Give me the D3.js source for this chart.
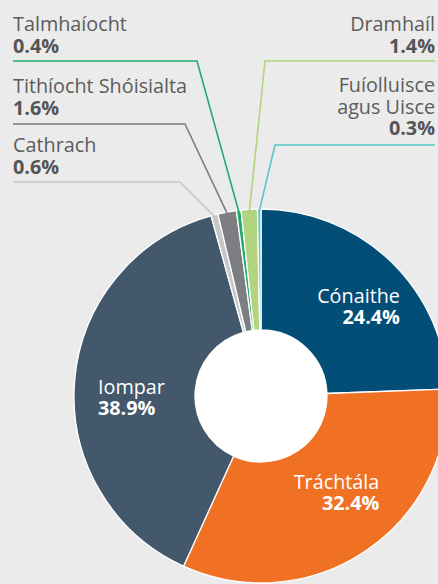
<!DOCTYPE html>
<html>
<head>
<meta charset="utf-8">
<script src="https://cdn.jsdelivr.net/npm/d3@7"></script>
<style>
  html, body { margin: 0; padding: 0; background: #ebebeb; }
  svg { display: block; font-family: "Open Sans", "Noto Sans", sans-serif; }
</style>
</head>
<body>
<svg id="chart" width="438" height="584"></svg>
<script>
// Emissions share by sector (%)
const categories = ["Cónaithe", "Tráchtála", "Iompar", "Cathrach", "Tithíocht Shóisialta", "Talmhaíocht", "Dramhaíl", "Fuíolluisce agus Uisce"];
const shares = [24.4, 32.4, 38.9, 0.6, 1.6, 0.4, 1.4, 0.3];
const colours = ["#034e77", "#f07124", "#43586a", "#c6c7c8", "#7d7e81", "#22ac6c", "#b0d57e", "#5bc5c8"];

const width = 438, height = 584;
const cx = 261, cy = 396;
const outerR = 187, innerR = 66;
const fontSize = 19.8, lineH = 21.5;
const fmt = d => d3.format(".1f")(d) + "%";

// Label text for each sector, split into lines
const nameLines = {
  "Fuíolluisce agus Uisce": ["Fuíolluisce", "agus Uisce"]
};
const linesOf = name => nameLines[name] || [name];

// Big sectors carry their label inside the ring (nudges from the slice centroid)
const insideLabels = {
  "Cónaithe":  { dx: 6, dy: 5 },
  "Tráchtála": { dx: 2, dy: -14 },
  "Iompar":    { dx: 2, dy: 11 }
};

// Small sectors get a callout in one of the two top columns
const callouts = {
  "Talmhaíocht":            { side: "left",  baseline: 31, elbowX: 197, ruleY: 61 },
  "Tithíocht Shóisialta":   { side: "left",  baseline: 93, elbowX: 185, ruleY: 124 },
  "Cathrach":               { side: "left",  baseline: 152, elbowX: 180, ruleY: 182 },
  "Dramhaíl":               { side: "right", baseline: 31, elbowX: 265, ruleY: 61 },
  "Fuíolluisce agus Uisce": { side: "right", baseline: 92, elbowX: 275, ruleY: 145 }
};
const leftX = 13, rightX = 435;

const svg = d3.select("#chart");
svg.append("rect").attr("width", width).attr("height", height).attr("fill", "#ebebeb");

const data = categories.map((c, i) => ({ name: c, value: shares[i], colour: colours[i] }));
const pie = d3.pie().value(d => d.value).sort(null);
const arcs = pie(data);

const arc = d3.arc().innerRadius(innerR).outerRadius(outerR);

const g = svg.append("g").attr("transform", `translate(${cx},${cy})`);

// Callout leader lines (drawn under the ring)
const polar = (a, r) => [Math.sin(a) * r, -Math.cos(a) * r];
const leaders = svg.append("g").attr("fill", "none").attr("stroke-width", 1.6);
arcs.filter(a => callouts[a.data.name]).forEach(a => {
  const c = callouts[a.data.name];
  const mid = (a.startAngle + a.endAngle) / 2;
  const [px, py] = polar(mid, outerR - 2);
  const startX = c.side === "left" ? leftX : rightX;
  leaders.append("path")
    .attr("d", d3.line()([[startX, c.ruleY], [c.elbowX, c.ruleY], [cx + px, cy + py]]))
    .attr("stroke", a.data.colour);
});

// Ring slices
g.selectAll("path.slice")
  .data(arcs)
  .join("path")
  .attr("class", "slice")
  .attr("d", arc)
  .attr("fill", d => d.data.colour)
  .attr("stroke", "#ffffff")
  .attr("stroke-width", 1.3)
  .attr("stroke-linejoin", "round");

// White centre
g.append("circle").attr("r", innerR).attr("fill", "#ffffff");

// Callout texts: one text element per sector, lines as tspans
const calloutText = svg.append("g").attr("font-size", fontSize).attr("fill", "#5c5c5c");
arcs.filter(a => callouts[a.data.name]).forEach(a => {
  const c = callouts[a.data.name];
  const x = c.side === "left" ? leftX : rightX;
  const anchor = c.side === "left" ? "start" : "end";
  const lines = linesOf(a.data.name);
  const t = calloutText.append("text")
    .attr("x", x).attr("y", c.baseline)
    .attr("text-anchor", anchor);
  lines.forEach((ln, i) => {
    t.append("tspan").attr("x", x).attr("dy", i === 0 ? 0 : lineH).text(ln);
  });
  t.append("tspan")
    .attr("x", x).attr("dy", lineH)
    .attr("font-weight", 700)
    .attr("fill", "#555555")
    .text(fmt(a.data.value));
});

// Labels inside the big slices
const labelR = 132;
arcs.filter(a => insideLabels[a.data.name]).forEach(a => {
  const nudge = insideLabels[a.data.name];
  const mid = (a.startAngle + a.endAngle) / 2;
  const [px, py] = polar(mid, labelR);
  const right = px >= 0;
  const t = g.append("text").attr("font-size", fontSize).attr("fill", "#ffffff")
    .attr("text-anchor", right ? "end" : "start");
  const s1 = t.append("tspan").text(a.data.name);
  const s2 = t.append("tspan").attr("font-weight", 700).text(fmt(a.data.value));
  const w = Math.max(s1.node().getComputedTextLength(), s2.node().getComputedTextLength());
  const x = (right ? px + w / 2 : px - w / 2) + nudge.dx;
  const y = py - 3 + nudge.dy;
  t.attr("x", x).attr("y", y);
  s1.attr("x", x);
  s2.attr("x", x).attr("dy", lineH);
});
</script>
</body>
</html>
